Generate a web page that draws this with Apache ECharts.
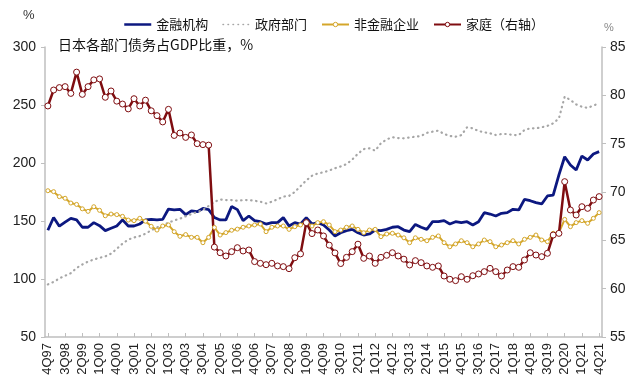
<!DOCTYPE html>
<html>
<head>
<meta charset="utf-8">
<script src="https://cdn.jsdelivr.net/npm/echarts@6/dist/echarts.min.js"></script>
<style>html,body{margin:0;padding:0;background:#fff;}#c{width:640px;height:390px;}</style>
</head>
<body>
<div id="c"></div>
<script>
// Quarter labels 4Q97 .. 4Q21
var categories = [];
(function(){
  var q = 4, y = 1997;
  while (y < 2021 || (y === 2021 && q <= 4)) {
    categories.push(q + 'Q' + String(y % 100).padStart(2, '0'));
    q++; if (q > 4) { q = 1; y++; }
  }
})();

var finInst = [142,153,145.5,149,152.3,151,144.6,144.6,148.6,146,
  141.7,143.7,145.7,151,145.7,145.7,147.4,150.9,151.4,151,
  151.4,160.3,159.5,160.1,155.5,158.8,158,160.8,159.8,153,
  150.9,151,162.5,159.8,150.3,154.3,150.3,149.4,147.4,148.6,
  148.6,152.9,145.7,148.6,147.4,152.9,147.4,148.6,146.6,142.2,
  137.1,139.9,141.7,142.8,139.9,137.9,138.8,142.2,141.7,142.8,
  144.6,145.1,142.2,140.8,147,144.6,142.8,149.4,149.4,150.3,
  147.4,149.4,148.6,149.4,146.6,149.4,157.2,156,154.3,156.6,
  157.2,160.1,159.5,168.7,167.5,165.8,164.7,171.6,172.4,189.7,
  205.4,198.3,194,206,202.6,207.8,209.8];

var government = [95.3,97.5,100.5,102.8,105,109.5,112.5,115,116.8,118.3,
  119.5,121.8,126,130.5,134,135.8,137,139,142,144.5,
  146.5,148.5,150.5,152,154,156,157.8,159.5,163,166.5,
  168.5,168,168,167.5,168,168,167.5,166.6,165.2,166.6,
  168.7,171,171.6,175,180,185,189,191,192,193.5,
  195.5,197,199,203,208,212,212.7,210.6,217,220.4,
  222.2,221.5,221.3,222,222.7,223.3,226,227,227.9,225,
  223.3,222.7,224,230.8,229.9,227.5,226.5,225.6,224.1,225,
  225,224.1,224.1,228.4,229.9,229.9,230.8,232,234.2,238.5,
  257.2,254.3,250.5,248.5,247.5,249.5,251.5];

var nonFinCorp = [176.1,175.3,171,169.6,165.5,164.3,160.5,158.3,162.3,159.2,
  154.5,156,155.5,154,150.8,150.3,152.3,149.8,145.4,142.2,
  145.7,146.6,140.8,136.8,138.3,135.9,135.9,131.3,135.9,144.4,
  137.9,140,142,143,144.6,145.7,146.6,147.4,140.8,144.6,
  145.7,145.7,142.8,145.1,146.6,149.4,145.7,148.6,149.4,146.6,
  140.8,142.2,144.6,145.7,142.8,139.9,142.2,142.8,136.5,138.8,
  139.4,137.9,135.5,131.3,135.5,134.2,133,135.9,137.1,131.3,
  127.8,130.2,133,131.3,127.8,130.2,133.6,132.2,127.8,129.3,
  131.3,133,130.2,134.2,135.9,137.9,133.6,132.2,139.4,139.9,
  151.4,145.1,148.6,150.3,148,152.3,157.2];

var household = [78.9,80.55,80.8,80.9,80.2,82.4,80.1,80.9,81.6,81.7,
  79.8,80.45,79.4,79.1,78.6,79.65,78.9,79.5,78.4,77.9,
  77.25,78.55,75.85,76.1,75.65,75.9,75.0,74.9,74.85,
  64.3,63.72,63.38,63.83,64.24,63.9,64.0,62.8,62.62,62.48,62.62,
  62.35,62.28,62.07,63.2,63.6,66.83,65.7,66.07,65.45,64.5,
  63.7,62.6,63.24,63.83,64.6,63.14,63.38,62.62,63.24,63.45,
  63.72,63.38,63.05,62.45,62.9,62.69,62.35,62.21,62.35,61.31,
  60.97,60.83,61.24,60.97,61.34,61.52,61.76,62.1,61.76,61.31,
  61.93,62.28,62.21,62.97,63.72,63.48,63.31,63.66,65.55,65.72,
  71.07,68.14,67.62,68.48,68.31,69.17,69.52];

var leftTicks = {min: 50, max: 300, interval: 50};
var rightTicks = {min: 55, max: 85, interval: 5};

var FONT = "'Liberation Sans', 'Noto Sans CJK SC', sans-serif";
var CJK = "'Noto Sans CJK SC', 'Liberation Sans', sans-serif";
var AXIS = '#bfbfbf';
var BLUE = '#0c1880', GRAY = '#a6a6a6', GOLD = '#d4a62a', RED = '#7f0d10';
var NOFILL = {color: 'rgba(0,0,0,0)', borderWidth: 0, borderColor: 'rgba(0,0,0,0)'};

var chart = echarts.init(document.getElementById('c'), null, {renderer: 'canvas'});
chart.setOption({
  animation: false,
  backgroundColor: '#fff',
  textStyle: {fontFamily: FONT},
  grid: {left: 45, right: 38, top: 47, bottom: 53, containLabel: false},
  legend: {
    top: 13, left: 118, itemWidth: 27, itemHeight: 5.5, itemGap: 14,
    textStyle: {fontSize: 13, color: '#111', fontFamily: CJK},
    data: [
      {name: '金融机构', itemStyle: NOFILL, lineStyle: {width: 2.5}},
      {name: '政府部门', itemStyle: NOFILL, lineStyle: {width: 1.5}},
      {name: '非金融企业', itemStyle: {color: '#fff', borderColor: GOLD, borderWidth: 1}, lineStyle: {width: 2}},
      {name: '家庭（右轴）', itemStyle: {color: '#fff', borderColor: RED, borderWidth: 1}, lineStyle: {width: 2}}
    ]
  },
  graphic: [
    {type: 'text', left: 58, top: 38, style: {text: '日本各部门债务占GDP比重，%', fontSize: 14, fill: '#111', fontFamily: CJK}},
    {type: 'text', left: 23, top: 9, style: {text: '%', fontSize: 13, fill: '#333', fontFamily: FONT}},
    {type: 'text', left: 604, top: 22, style: {text: '%', fontSize: 11, fill: '#888', fontFamily: FONT}}
  ],
  xAxis: {
    type: 'category', data: categories, boundaryGap: true,
    axisLine: {lineStyle: {color: AXIS, width: 1.5}},
    axisTick: {show: true, inside: true, interval: 2, alignWithLabel: true, length: 4, lineStyle: {color: AXIS}},
    axisLabel: {interval: 2, rotate: 90, fontSize: 13, color: '#222', margin: 6, fontFamily: FONT},
    splitLine: {show: false}
  },
  yAxis: [
    {
      type: 'value', min: leftTicks.min, max: leftTicks.max, interval: leftTicks.interval,
      axisLine: {show: true, lineStyle: {color: AXIS, width: 1.5}},
      axisTick: {show: true, length: 4, lineStyle: {color: AXIS}},
      axisLabel: {fontSize: 14, color: '#222', margin: 9, fontFamily: FONT},
      splitLine: {show: false}
    },
    {
      type: 'value', min: rightTicks.min, max: rightTicks.max, interval: rightTicks.interval,
      position: 'right',
      axisLine: {show: true, lineStyle: {color: AXIS, width: 1.5}},
      axisTick: {show: true, length: 4, lineStyle: {color: AXIS}},
      axisLabel: {fontSize: 14, color: '#222', margin: 8, fontFamily: FONT},
      splitLine: {show: false}
    }
  ],
  series: [
    {
      name: '金融机构', type: 'line', data: finInst, yAxisIndex: 0,
      symbol: 'none', color: BLUE,
      lineStyle: {color: BLUE, width: 2.8}
    },
    {
      name: '政府部门', type: 'line', data: government, yAxisIndex: 0,
      symbol: 'none', color: GRAY,
      lineStyle: {color: GRAY, width: 2.2, type: [0.5, 4.5], cap: 'round'}
    },
    {
      name: '非金融企业', type: 'line', data: nonFinCorp, yAxisIndex: 0,
      symbol: 'circle', symbolSize: 4, showAllSymbol: true, color: GOLD,
      lineStyle: {color: GOLD, width: 2},
      itemStyle: {color: '#fff', borderColor: GOLD, borderWidth: 1}
    },
    {
      name: '家庭（右轴）', type: 'line', data: household, yAxisIndex: 1,
      symbol: 'circle', symbolSize: 6, showAllSymbol: true, color: RED,
      lineStyle: {color: RED, width: 2.5},
      itemStyle: {color: '#fff', borderColor: RED, borderWidth: 1}
    }
  ]
});
</script>
</body>
</html>
